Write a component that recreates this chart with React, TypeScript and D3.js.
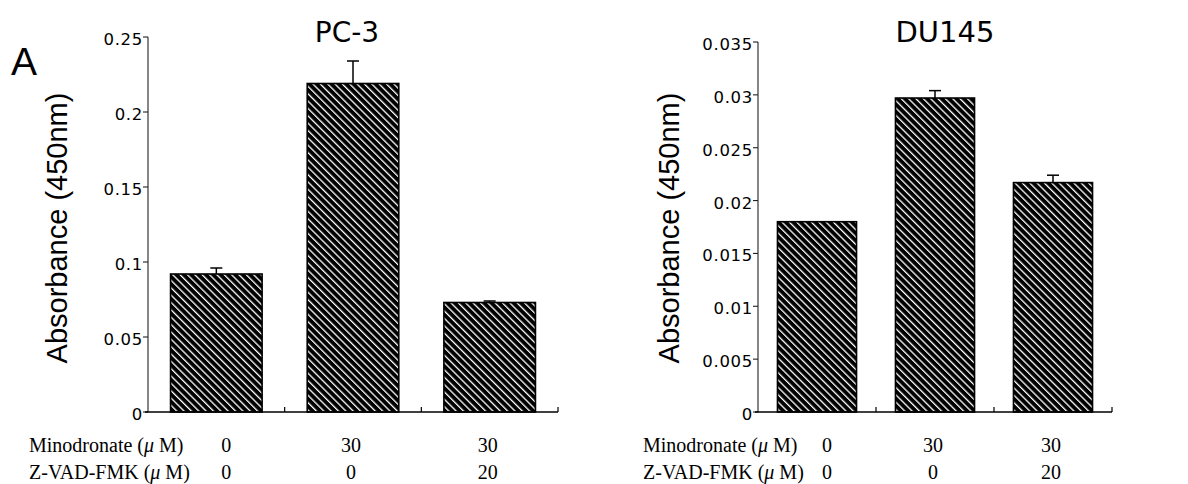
import React from "react";
import * as d3 from "d3";

// ---- data ----
const conditions = ["c1", "c2", "c3"];
const minodronateRow = ["0", "30", "30"];
const zvadRow = ["0", "0", "20"];
const pc3Values = [0.092, 0.219, 0.073];
const pc3Errors = [0.004, 0.015, 0.001];
const pc3Ticks = [0, 0.05, 0.1, 0.15, 0.2, 0.25];
const du145Values = [0.018, 0.0297, 0.0217];
const du145Errors = [0, 0.0007, 0.0007];
const du145Ticks = [0, 0.005, 0.01, 0.015, 0.02, 0.025, 0.03, 0.035];
const yLabel = "Absorbance (450nm)";
const rowLabel1 = "Minodronate";
const rowLabel2 = "Z-VAD-FMK";

const SANS = "'DejaVu Sans', sans-serif";
const SERIF = "'Liberation Serif', 'Times New Roman', serif";
const fmt = d3.format("~g");

type PanelProps = {
  title: string;
  values: number[];
  errors: number[];
  ticks: number[];
  x0: number;
  x1: number;
  yTop: number;
  titleX: number;
  titleSize: number;
  labelX: number;
  rowLabelX: number;
};

function RowLabel({ x, y, name }: { x: number; y: number; name: string }) {
  return (
    <text x={x} y={y}>
      {name + " ("}
      <tspan fontStyle="italic">{"\u03BC"}</tspan>
      {" M)"}
    </text>
  );
}

function Panel(p: PanelProps) {
  const yBase = 412;
  const x = d3
    .scaleBand<string>()
    .domain(conditions)
    .range([p.x0, p.x1])
    .paddingInner(0.33)
    .paddingOuter(0.165);
  const y = d3
    .scaleLinear()
    .domain([0, p.ticks[p.ticks.length - 1]])
    .range([yBase, p.yTop]);
  const step = x.step();
  const boundaries = conditions.map((_, i) => p.x0 + step * (i + 1));
  return (
    <g>
      <text
        x={p.titleX}
        y={42}
        textAnchor="middle"
        fontFamily={SANS}
        fontSize={p.titleSize}
        fill="#000"
      >
        {p.title}
      </text>
      {/* y axis */}
      <line x1={p.x0} x2={p.x0} y1={y(p.ticks[p.ticks.length - 1])} y2={yBase} stroke="#222" strokeWidth={1.1} />
      {p.ticks.map((t) => (
        <g key={t}>
          <line x1={p.x0 - 5} x2={p.x0} y1={y(t)} y2={y(t)} stroke="#222" strokeWidth={1.1} />
          <text
            x={p.x0 - 5}
            y={y(t) + 2}
            dy="0.36em"
            textAnchor="end"
            fontFamily={SANS}
            fontSize={16.5}
            letterSpacing={0.7}
            fill="#000"
          >
            {fmt(t)}
          </text>
        </g>
      ))}
      <text
        transform={`translate(${p.labelX},228) rotate(-90)`}
        textAnchor="middle"
        fontFamily="'Liberation Sans', Arial, sans-serif"
        fontSize={29}
        fill="#000"
      >
        {yLabel}
      </text>
      {/* bars */}
      {p.values.map((v, i) => {
        const c = conditions[i];
        const bx = x(c)!;
        return (
          <rect
            key={c}
            x={bx}
            y={y(v)}
            width={x.bandwidth()}
            height={yBase - y(v)}
            fill="url(#hatch)"
            stroke="#000"
            strokeWidth={1.6}
          />
        );
      })}
      {/* error bars */}
      {p.values.map((v, i) => {
        const e = p.errors[i];
        if (!e) return null;
        const cx = x(conditions[i])! + x.bandwidth() / 2;
        return (
          <g key={"e" + i} stroke="#000" strokeWidth={1.5}>
            <line x1={cx} x2={cx} y1={y(v)} y2={y(v + e)} />
            <line x1={cx - 6} x2={cx + 6} y1={y(v + e)} y2={y(v + e)} />
          </g>
        );
      })}
      {/* x axis */}
      <line x1={p.x0 - 3} x2={p.x1} y1={yBase} y2={yBase} stroke="#000" strokeWidth={1.6} />
      {boundaries.map((b, i) => (
        <line key={"b" + i} x1={b} x2={b} y1={yBase} y2={yBase - 5} stroke="#000" strokeWidth={1.2} />
      ))}
      {/* table */}
      <g fontFamily={SERIF} fontSize={20} fill="#000">
        <RowLabel x={p.rowLabelX} y={452} name={rowLabel1} />
        <RowLabel x={p.rowLabelX} y={479} name={rowLabel2} />
        {conditions.map((c, i) => {
          const cx = x(c)! + x.bandwidth() / 2 + (i === 0 ? 10 : -2);
          return (
            <g key={"t" + c} textAnchor="middle">
              <text x={cx} y={452}>{minodronateRow[i]}</text>
              <text x={cx} y={479}>{zvadRow[i]}</text>
            </g>
          );
        })}
      </g>
    </g>
  );
}

export default function App() {
  return (
    <svg
      width={1188}
      height={484}
      style={{ position: "absolute", left: 0, top: 0, background: "#fff" }}
    >
      <defs>
        <pattern
          id="hatch"
          patternUnits="userSpaceOnUse"
          width={5.2}
          height={5.2}
          patternTransform="rotate(-45)"
        >
          <rect width={5.2} height={5.2} fill="#000" />
          <rect x={0} y={0} width={1.3} height={5.2} fill="#fff" />
        </pattern>
      </defs>
      <rect width={1188} height={484} fill="#fff" />
      <text x={11} y={75} fontFamily="'Liberation Sans', Arial, sans-serif" fontSize={39} fill="#000">
        A
      </text>
      <Panel
        title="PC-3"
        values={pc3Values}
        errors={pc3Errors}
        ticks={pc3Ticks}
        x0={148}
        x1={558}
        yTop={37}
        titleX={347}
        titleSize={28}
        labelX={67}
        rowLabelX={29}
      />
      <Panel
        title="DU145"
        values={du145Values}
        errors={du145Errors}
        ticks={du145Ticks}
        x0={758}
        x1={1112}
        yTop={42}
        titleX={945}
        titleSize={29}
        labelX={679}
        rowLabelX={643}
      />
    </svg>
  );
}
